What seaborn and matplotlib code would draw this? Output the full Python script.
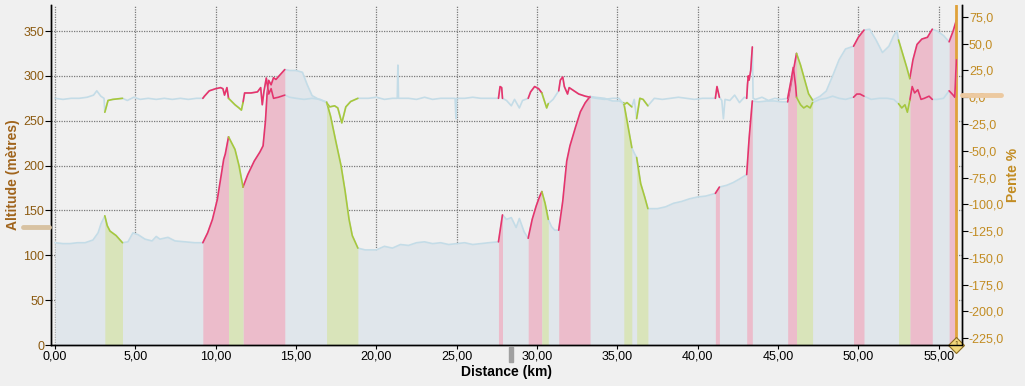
import numpy as np
import pandas as pd
import matplotlib
matplotlib.use("Agg")
import matplotlib.pyplot as plt
import seaborn as sns
from matplotlib.ticker import FuncFormatter, MultipleLocator
from matplotlib.lines import Line2D
from matplotlib.patches import Rectangle
import matplotlib.transforms as mtransforms

sns.set_theme(style="white")
plt.rcParams["font.family"] = ["Liberation Sans", "DejaVu Sans"]

# ---------------- data ----------------
dist_km = [0.0, 0.5, 0.93, 1.4, 1.87, 2.36, 2.68, 2.86, 3.1, 3.25, 3.42, 3.8, 4.2, 4.54, 4.85, 5.17,
           5.6, 6.04, 6.3, 6.53, 7.03, 7.47, 8.09, 8.71, 9.2, 9.5, 9.8, 10.1, 10.35, 10.5, 10.6, 10.8,
           11.0, 11.2, 11.45, 11.7, 12.0, 12.4, 12.75, 12.95, 13.1, 13.2, 13.3, 13.45, 13.6, 13.75,
           13.95, 14.1, 14.3, 14.6, 15.0, 15.4, 15.7, 16.0, 16.4, 16.9, 17.15, 17.5, 17.8, 18.05,
           18.3, 18.5, 18.85, 19.3, 20.0, 20.5, 21.0, 21.5, 22.0, 22.5, 23.0, 23.5, 24.0, 24.5, 25.0,
           25.5, 26.0, 26.5, 27.0, 27.6, 27.85, 28.1, 28.4, 28.7, 28.9, 29.2, 29.45, 29.7, 29.95,
           30.15, 30.3, 30.5, 30.7, 30.9, 31.1, 31.35, 31.6, 31.85, 32.05, 32.4, 32.7, 33.0, 33.3,
           33.7, 34.2, 34.7, 35.1, 35.4, 35.6, 35.9, 36.05, 36.2, 36.45, 36.7, 36.9, 37.5, 38.0,
           38.5, 39.0, 39.5, 40.0, 40.5, 41.1, 41.35, 41.8, 42.2, 42.6, 43.05, 43.2, 43.4, 43.8,
           44.3, 44.8, 45.2, 45.6, 45.9, 46.15, 46.4, 46.65, 46.9, 47.15, 47.6, 48.0, 48.4, 48.8,
           49.2, 49.7, 50.0, 50.35, 50.7, 51.1, 51.5, 51.9, 52.2, 52.4, 52.5, 52.8, 53.0, 53.2,
           53.4, 53.65, 53.95, 54.3, 54.6, 54.9, 55.3, 55.65, 55.9, 56.1]
altitude_m = [114, 113, 113, 114, 114, 117, 125, 135, 144, 133, 127, 122, 114, 115, 125, 123,
              118, 116, 121, 118, 120, 116, 115, 114, 114, 125, 140, 162, 190, 207, 213, 232,
              225, 218, 200, 176, 190, 205, 215, 222, 250, 280, 295, 290, 298, 296,
              300, 303, 307, 306, 306, 304, 290, 278, 274, 271, 255, 225, 200, 172,
              140, 122, 108, 106, 106, 110, 108, 112, 111, 114, 115, 113, 114, 112, 113,
              114, 112, 113, 114, 115, 145, 140, 142, 131, 141, 126, 119, 140, 155,
              165, 171, 158, 140, 132, 128, 128, 160, 205, 222, 243, 260, 270, 277,
              276, 275, 272, 272, 270, 250, 220, 214, 209, 180, 165, 152, 152, 154,
              158, 160, 163, 165, 166, 169, 176, 178, 181, 185, 190, 230, 272, 271,
              272, 272, 271, 271, 300, 325, 312, 296, 280, 273, 277, 283, 300, 318,
              330, 333, 343, 351, 352, 340, 326, 333, 345, 350, 340, 322, 310, 297,
              318, 335, 341, 343, 352, 350, 345, 338, 350, 362]

slope_km = [0.0, 0.5, 1.0, 1.5, 2.0, 2.4, 2.6, 2.85, 3.05, 3.1, 3.3, 3.6, 4.2, 4.5, 4.9, 5.3, 5.8,
            6.3, 6.8, 7.3, 7.8, 8.3, 8.8, 9.2, 9.3, 9.6, 10.0, 10.3, 10.45, 10.55, 10.7, 10.8,
            11.0, 11.2, 11.45, 11.6, 11.7, 11.8, 12.2, 12.6, 12.8, 12.9, 13.0, 13.15, 13.3, 13.45,
            13.6, 13.9, 14.1, 14.3, 14.6, 15.0, 15.5, 16.0, 16.5, 16.9, 17.1, 17.4, 17.6, 17.85,
            18.1, 18.4, 18.85, 19.5, 20.0, 20.5, 21.0, 21.3, 21.34, 21.38, 22.0, 22.5, 23.0, 23.5,
            24.0, 24.5, 24.9, 24.95, 25.0, 25.5, 26.0, 26.5, 27.0, 27.6, 27.7, 27.8, 27.85, 28.1,
            28.4, 28.6, 28.9, 29.1, 29.45, 29.6, 29.85, 30.1, 30.3, 30.45, 30.6, 30.7, 31.0, 31.35,
            31.45, 31.6, 31.7, 31.9, 32.0, 32.3, 32.6, 33.0, 33.3, 33.7, 34.2, 34.7, 35.1, 35.4,
            35.6, 35.9, 36.05, 36.2, 36.4, 36.6, 36.9, 37.3, 37.8, 38.3, 38.8, 39.3, 39.8, 40.3,
            40.8, 41.1, 41.2, 41.35, 41.5, 41.6, 41.7, 42.0, 42.3, 42.6, 42.9, 43.05, 43.1, 43.15,
            43.2, 43.3, 43.4, 43.45, 43.6, 44.0, 44.4, 44.8, 45.2, 45.6, 45.8, 45.95, 46.1, 46.15,
            46.4, 46.6, 46.8, 47.0, 47.15, 47.6, 48.0, 48.4, 48.8, 49.2, 49.7, 49.9, 50.1, 50.35,
            50.8, 51.3, 51.8, 52.2, 52.5, 52.7, 52.9, 53.05, 53.2, 53.35, 53.5, 53.7, 53.9, 54.1,
            54.4, 54.6, 54.9, 55.3, 55.65, 55.9, 56.0, 56.1]
slope_pct = [-1, -2, -1, -1, 0, 2, 6, 1, -1, -14, -3, -2, -1, -3, 0, -2, -1,
             -2, -1, -2, -1, -2, -1, -1, 1, 6, 8, 9, 8, 2, 9, -1,
             -4, -7, -10, -12, -5, 4, 4, 5, 9, -7, 5, 18, 3, 8,
             -1, 0, 1, 2, 0, -1, -2, -1, -2, -5, -9, -8, -10, -24,
             -9, -4, -1, -1, 0, -2, -1, -1, 30, -1, -1, -2, 0, -2,
             -1, -1, -1, -20, -1, -1, 0, -1, -1, -1, 10, 9, -1, -3,
             -8, -2, -10, -3, -1, 5, 10, 8, 4, -3, -10, -6, -2, 6,
             16, 19, 10, 3, 9, 6, 3, 1, 0, -1, -2, -1, -1, -7,
             -5, -9, -2, -20, -1, -2, -8, -1, -2, -1, 0, -1, -2, -1,
             -1, -1, 10, 0, -3, -20, -2, -3, 2, -5, 0, -1, 12, 20,
             16, 25, 47, -1, -2, 0, -3, -1, -2, -1, 15, 28, 10, 0,
             -7, -10, -8, -10, -5, -2, -1, 1, -1, -2, 0, 3, 3, 1,
             -2, -1, -1, -2, -6, -10, -7, -14, -3, 10, 4, 7, -2, -1,
             1, -2, -2, -1, 6, 2, 0, 35]

climb_ranges = [(9.2, 10.8), (11.7, 14.3), (27.6, 27.85), (29.45, 30.3), (31.35, 33.3),
                (41.1, 41.35), (43.05, 43.4), (45.6, 46.15), (49.7, 50.35), (53.2, 54.6),
                (55.65, 56.1)]
descent_ranges = [(3.1, 4.2), (10.8, 11.7), (16.9, 18.85), (30.3, 30.7), (35.4, 35.9),
                  (36.2, 36.9), (46.15, 47.15), (52.5, 53.2)]

x_ticks = [0, 5, 10, 15, 20, 25, 30, 35, 40, 45, 50, 55]
alt_ticks = [0, 50, 100, 150, 200, 250, 300, 350]
slope_ticks = [75, 50, 25, 0, -25, -50, -75, -100, -125, -150, -175, -200, -225]
cursor_km = 56.1
marker_km = 28.38

# ---------------- style ----------------
BG = "#f0f0f0"
BLUE_FILL = "#e0e6eb"
BLUE_LINE = "#c4dce7"
PINK_FILL = "#ecbccb"
RED_LINE = "#e8336b"
GREEN_FILL = "#d9e4ba"
GREEN_LINE = "#a8c83a"
ALT_COL = "#8c5a10"
ALT_LABEL = "#a0641c"
SLOPE_COL = "#c28c22"

prof = pd.DataFrame({"km": dist_km, "alt": altitude_m})
slp = pd.DataFrame({"km": slope_km, "pct": slope_pct})

fig = plt.figure(figsize=(10.25, 3.86), dpi=100, facecolor=BG)
ax = fig.add_axes([51 / 1025, 41 / 386, 911 / 1025, 340 / 386])
ax.set_facecolor(BG)
ax2 = ax.twinx()

# altitude fills
ax.fill_between(prof["km"], prof["alt"], 0, color=BLUE_FILL, lw=0, zorder=1)
for ranges, fc in ((climb_ranges, PINK_FILL), (descent_ranges, GREEN_FILL)):
    for a, b in ranges:
        seg = prof[(prof["km"] >= a) & (prof["km"] <= b)]
        ax.fill_between(seg["km"], seg["alt"], 0, color=fc, lw=0, zorder=2)

# altitude line
sns.lineplot(data=prof, x="km", y="alt", ax=ax, color=BLUE_LINE, lw=1.2,
             estimator=None, zorder=3)
for ranges, lc in ((climb_ranges, RED_LINE), (descent_ranges, GREEN_LINE)):
    for a, b in ranges:
        seg = prof[(prof["km"] >= a) & (prof["km"] <= b)]
        sns.lineplot(data=seg, x="km", y="alt", ax=ax, color=lc, lw=1.2,
                     estimator=None, zorder=4)

# slope line
sns.lineplot(data=slp, x="km", y="pct", ax=ax2, color=BLUE_LINE, lw=1.2,
             estimator=None, zorder=3)
for ranges, lc in ((climb_ranges, RED_LINE), (descent_ranges, GREEN_LINE)):
    for a, b in ranges:
        seg = slp[(slp["km"] >= a) & (slp["km"] <= b)]
        sns.lineplot(data=seg, x="km", y="pct", ax=ax2, color=lc, lw=1.2,
                     estimator=None, zorder=4)

# axes limits / ticks
ax.set_xlim(-0.25, 56.45)
ax.set_ylim(0, 379)
ax2.set_ylim(-231.5, 86.2)
ax.set_xticks(x_ticks)
ax.set_yticks(alt_ticks)
ax2.set_yticks(slope_ticks)
ax.xaxis.set_major_formatter(FuncFormatter(lambda v, p: f"{v:.2f}".replace(".", ",")))
ax.yaxis.set_major_formatter(FuncFormatter(lambda v, p: f"{int(v)}"))
ax2.yaxis.set_major_formatter(FuncFormatter(lambda v, p: f"{v:.1f}".replace(".", ",")))

ax.grid(True, color="#7a7a7a", linestyle=(0, (1, 1)), lw=0.9)
ax.set_axisbelow(True)

ax.tick_params(axis="x", colors="black", labelsize=9, length=3, width=0.8, pad=1,
               direction="out", bottom=True)
ax.tick_params(axis="y", labelcolor=ALT_COL, color="black", labelsize=9, length=4,
               width=0.8, pad=1, left=True)
ax2.tick_params(axis="y", labelcolor=SLOPE_COL, color="black", labelsize=9, length=4,
                width=0.8, pad=1, right=True)

for a_ in (ax, ax2):
    a_.spines["top"].set_visible(False)
    for s in ("left", "bottom", "right"):
        a_.spines[s].set_color("black")
        a_.spines[s].set_linewidth(1.0)

ax.set_xlabel("Distance (km)", fontsize=10, fontweight="bold", color="black", labelpad=2)
ax.set_ylabel("Altitude (mètres)", fontsize=10, fontweight="bold", color=ALT_LABEL, labelpad=2)
ax2.set_ylabel("Pente %", fontsize=10, fontweight="bold", color=SLOPE_COL, labelpad=1)

# cursor decorations
ax.axvline(cursor_km, color="#e0a23a", lw=2, zorder=6)
ax.plot([cursor_km], [0], marker="D", ms=8, mfc="#f2d77a", mec="#8a6a20", mew=0.8,
        clip_on=False, zorder=7)
ax.text(cursor_km, 0, "1", fontsize=5, ha="center", va="center", color="#5a4010",
        zorder=8, clip_on=False)
trans = mtransforms.blended_transform_factory(ax.transData, ax.transAxes)
ax.add_patch(Rectangle((marker_km - 0.15, -17 / 340), 0.3, 15 / 340, transform=trans,
                       color="#a0a0a0", clip_on=False, zorder=5))
fig.add_artist(Line2D([23 / 1025, 49 / 1025], [1 - 227 / 386] * 2, color="#d8c2a2", lw=3.5))
fig.add_artist(Line2D([962 / 1025, 1001 / 1025], [1 - 94.5 / 386] * 2, color="#ecc9a0", lw=3.5))

fig.savefig("out.png", dpi=100, facecolor=BG)
